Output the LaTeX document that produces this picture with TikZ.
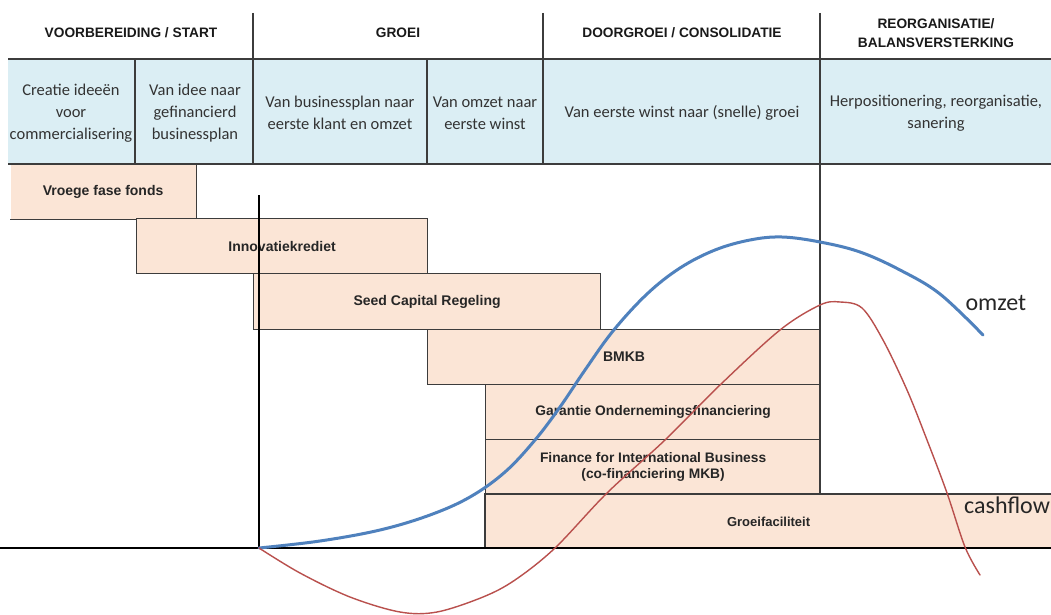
\documentclass[tikz,border=0pt]{standalone}
\usepackage{fontspec}
\setmainfont{Liberation Sans}
\newfontfamily\calfont{Carlito}
\definecolor{cellblue}{RGB}{219,238,244}
\definecolor{boxfill}{RGB}{251,229,214}
\definecolor{gridc}{RGB}{60,60,60}
\definecolor{omzetc}{RGB}{79,129,189}
\definecolor{cashc}{RGB}{185,80,77}
\tikzset{
  gridline/.style={draw=gridc, line width=1.3pt},
  hdr/.style={font=\fontsize{13.7}{19}\selectfont\bfseries, align=center, text=black!90},
  cell/.style={font=\calfont\fontsize{16.5}{22}\selectfont, align=center, text=black!80},
  fbox/.style={draw=gridc, line width=1.2pt, fill=boxfill, anchor=north west, inner sep=0pt,
     font=\fontsize{14}{16}\selectfont\bfseries, text=black!85, align=center},
  fboxs/.style={fbox, font=\fontsize{13.8}{16}\selectfont\bfseries},
  axisline/.style={draw=black, line width=1.8pt},
  omzetline/.style={draw=omzetc, line width=3pt, line cap=round},
  cashline/.style={draw=cashc, line width=1.4pt, line cap=round},
  curvelabel/.style={font=\calfont\fontsize{24}{26}\selectfont, text=black!85},
}
\begin{document}
\begin{tikzpicture}[x=1pt,y=-1pt]
\useasboundingbox (0,0) rectangle (1051,615);
\fill[white] (0,0) rectangle (1051,615);
% blue band
\fill[cellblue] (8,59) rectangle (1051,164);
% header texts
\node[hdr] (h1) at (131,33) {VOORBEREIDING / START};
\node[hdr] (h2) at (398,33) {GROEI};
\node[hdr] (h3) at (682,33) {DOORGROEI / CONSOLIDATIE};
\node[hdr] (h4) at (936,33) {REORGANISATIE/\\BALANSVERSTERKING};
% cell texts
\node[cell] (c1) at (71,113) {Creatie ideeën\\voor\\commercialisering};
\node[cell] (c2) at (195,113) {Van idee naar\\gefinancierd\\businessplan};
\node[cell] (c3) at (340,113) {Van businessplan naar\\eerste klant en omzet};
\node[cell] (c4) at (485,113) {Van omzet naar\\eerste winst};
\node[cell] (c5) at (682,113) {Van eerste winst naar (snelle) groei};
\node[cell] (c6) at (936,113) {Herpositionering, reorganisatie,\\sanering};
% financing boxes
\node[fbox, draw=none, minimum width=185, minimum height=54] (vff) at (10,164) {Vroege fase fonds};
\draw[gridline] (vff.north east) -- (vff.south east) -- (vff.south west);
\node[fbox, minimum width=291, minimum height=55] (ik) at (136,218) {Innovatiekrediet};
\node[fbox, minimum width=347, minimum height=56] (scr) at (253,273) {Seed Capital Regeling};
\node[fbox, minimum width=393, minimum height=55] (bmkb) at (427,329) {BMKB};
\node[fboxs, minimum width=335, minimum height=55] (gof) at (485,384) {Garantie Ondernemingsfinanciering};
\node[fboxs, minimum width=335, minimum height=55] (fib) at (485,439) {Finance for International Business\\(co-financiering MKB)};
\node[fbox, font=\fontsize{13}{15}\selectfont\bfseries, draw=none, minimum width=566, minimum height=54] (gf) at (485,494) {Groeifaciliteit};
\draw[gridline] (gf.north east) -- (gf.north west) -- (gf.south west);
% grid lines
\draw[gridline] (8,59) -- (1051,59);
\draw[gridline] (8,164) -- (1051,164);
\draw[gridline] (135,59) -- (135,164);
\draw[gridline] (253,13) -- (253,164);
\draw[gridline] (427,59) -- (427,164);
\draw[gridline] (543,13) -- (543,164);
\draw[gridline] (820,13) -- (820,494);
% axes
\coordinate (O) at (259,548);
\coordinate (ytop) at (259,195);
\coordinate (xl) at (0,548);
\coordinate (xr) at (1051,548);
\draw[axisline] (ytop) -- (O);
\draw[axisline] (xl) -- (xr);
% curves
\draw[omzetline] plot[smooth, tension=0.6] coordinates {(259,548) (320,541) (380,530) (430,515) (470,497) (505,472) (535,440) (560,407) (585,370) (613,331) (647,294) (680,268) (715,250) (750,240) (782,237) (820,242) (860,252) (900,270) (940,294) (983,335)};
\draw[cashline] plot[smooth, tension=0.55] coordinates {(259,548) (300,573) (350,597) (400,612) (437,612) (483,597) (515,580) (555,548) (607,493) (665,440) (720,385) (780,330) (820,305) (840,302) (862,308) (883,340) (907,390) (927,440) (947,493) (965,547) (980,575)};
% labels
\node[curvelabel, anchor=west] (lo) at (962,303) {omzet};
\node[curvelabel, anchor=west, inner xsep=0pt] (lc) at (964,505) {cashflow};
\end{tikzpicture}
\end{document}
